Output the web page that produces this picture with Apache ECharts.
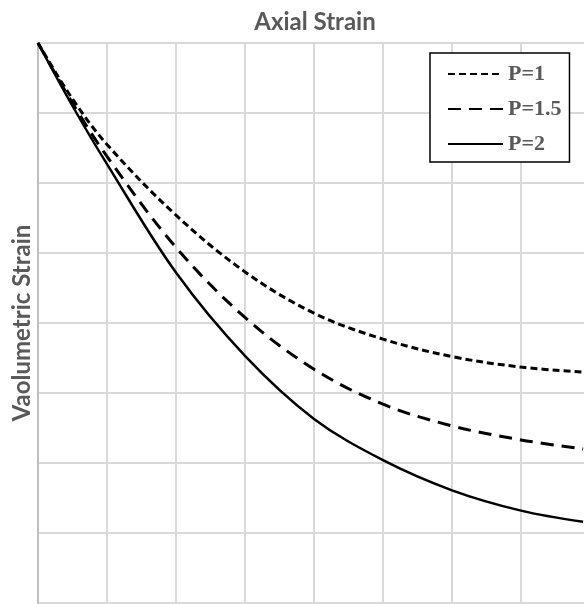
<!DOCTYPE html>
<html>
<head>
<meta charset="utf-8">
<script src="https://cdn.jsdelivr.net/npm/echarts@6/dist/echarts.min.js"></script>
<style>
html,body{margin:0;padding:0;background:#fff;}
#chart{width:584px;height:604px;}
</style>
</head>
<body>
<div id="chart"></div>
<script>
var xValues = [0, 0.5, 1, 2, 3, 4, 5, 6, 7, 7.9];
var seriesNames = ['P=1', 'P=1.5', 'P=2'];
var p1 = [0, -0.80, -1.45, -2.46, -3.27, -3.86, -4.23, -4.48, -4.63, -4.70];
var p15 = [0, -0.86, -1.62, -2.92, -3.92, -4.66, -5.16, -5.47, -5.67, -5.80];
var p2 = [0, -0.90, -1.73, -3.28, -4.47, -5.37, -5.96, -6.39, -6.68, -6.84];

function pairs(ys){ return xValues.map(function(x,i){ return [x, ys[i]]; }); }

var chart = echarts.init(document.getElementById('chart'), null, {renderer:'canvas'});
chart.setOption({
  animation: false,
  backgroundColor: '#fff',
  title: {
    text: 'Axial Strain',
    left: 310, top: 5,
    textAlign: 'center',
    textStyle: {fontFamily: 'Lato', fontWeight: 'bold', fontSize: 24, color: '#595959'}
  },
  legend: {
    orient: 'vertical',
    left: 430, top: 53,
    backgroundColor: '#fff',
    borderColor: '#000', borderWidth: 1.5, borderRadius: 0,
    padding: [10, 8, 7, 17],
    itemWidth: 55, itemHeight: 14, itemGap: 13,
    data: seriesNames,
    itemStyle: {color: 'rgba(0,0,0,0)', borderWidth: 0, opacity: 0},
    textStyle: {fontFamily: 'Liberation Serif', fontWeight: 'bold', fontSize: 22, color: '#595959'}
  },
  grid: {left: 38, top: 43, right: -6, bottom: 1, containLabel: false, outerBoundsMode: 'none'},
  xAxis: {
    type: 'value', position: 'top', min: 0, max: 8, interval: 1,
    axisLine: {show: true, lineStyle: {color: '#d9d9d9', width: 2}},
    axisTick: {show: false}, axisLabel: {show: false},
    splitLine: {show: true, lineStyle: {color: '#d9d9d9', width: 2}}
  },
  yAxis: {
    type: 'value', min: -8, max: 0, interval: 1,
    name: 'Vaolumetric Strain', nameLocation: 'middle', nameGap: 4,
    nameTextStyle: {fontFamily: 'Lato', fontWeight: 'bold', fontSize: 24, color: '#595959'},
    axisLine: {show: true, lineStyle: {color: '#bfbfbf', width: 2}},
    axisTick: {show: false}, axisLabel: {show: false},
    splitLine: {show: true, lineStyle: {color: '#d9d9d9', width: 2}}
  },
  series: [
    {name: seriesNames[0], type: 'line', data: pairs(p1), smooth: 0.35, symbol: 'none',
     lineStyle: {color: '#000', width: 3, type: [7, 4]}, itemStyle: {color: '#000'}},
    {name: seriesNames[1], type: 'line', data: pairs(p15), smooth: 0.35, symbol: 'none',
     lineStyle: {color: '#000', width: 3, type: [13, 8]}, itemStyle: {color: '#000'}},
    {name: seriesNames[2], type: 'line', data: pairs(p2), smooth: 0.35, symbol: 'none',
     lineStyle: {color: '#000', width: 2.5, type: 'solid'}, itemStyle: {color: '#000'}}
  ]
});
</script>
</body>
</html>
